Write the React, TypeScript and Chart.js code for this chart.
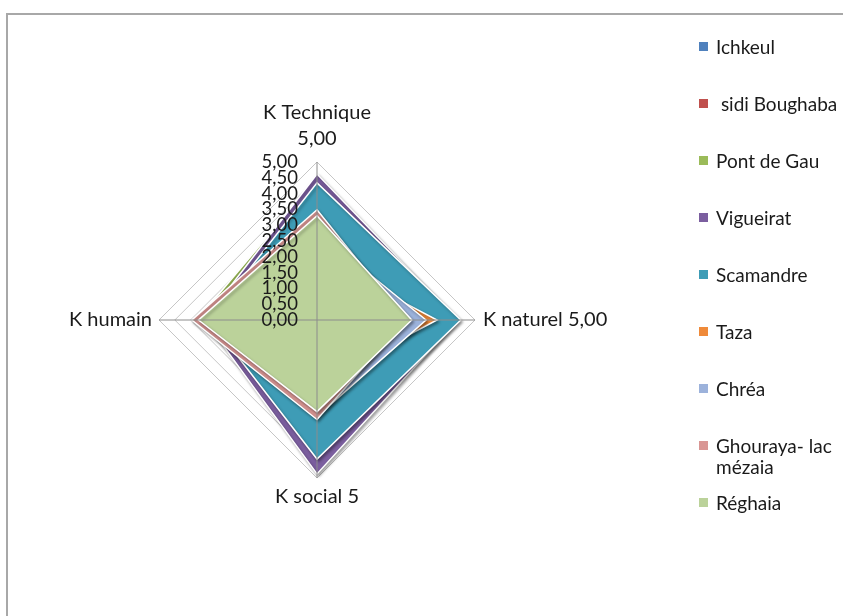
import React, { useEffect, useRef } from "react";
import { Chart, registerables } from "chart.js";

const axisLabels: (string | string[])[] = [["K Technique", "5,00"], "K naturel 5,00", "K social 5", "K humain"];
const seriesNames = ["Ichkeul", " sidi Boughaba", "Pont de Gau", "Vigueirat", "Scamandre", "Taza", "Chréa", "Ghouraya- lac mézaia", "Réghaia"];
const seriesColors = ["#4F81BD", "#C0504D", "#9BBB59", "#7B5E9F", "#3E9CB6", "#EF8A3A", "#9CB2DB", "#D99694", "#BBD29A"];

// values: K Technique, K naturel, K social, K humain
const ichkeul = [3.2, 3.2, 2.6, 3.4];
const sidiBoughaba = [3.0, 2.9, 2.7, 3.5];
const pontDeGau = [4.5, 4.0, 3.5, 3.8];
const vigueirat = [4.62, 4.45, 4.87, 3.56];
const scamandre = [4.34, 4.55, 4.4, 3.4];
const taza = [2.0, 3.8, 2.0, 2.5];
const chrea = [2.8, 3.45, 3.05, 3.0];
const ghouraya = [3.49, 2.8, 3.15, 3.96];
const reghaia = [3.3, 3.0, 2.9, 3.75];
const seriesValues = [ichkeul, sidiBoughaba, pontDeGau, vigueirat, scamandre, taza, chrea, ghouraya, reghaia];

const scaleMin = 0;
const scaleMax = 5;
const scaleStep = 0.5;

const FONT = "Lato, 'Open Sans', sans-serif";

const shadowPlugin = {
  id: "seriesShadow",
  beforeDatasetDraw(chart: any) {
    const ctx = chart.ctx;
    ctx.save();
    ctx.shadowColor = "rgba(0,0,0,0.35)";
    ctx.shadowBlur = 3;
    ctx.shadowOffsetX = 1.5;
    ctx.shadowOffsetY = 2;
  },
  afterDatasetDraw(chart: any) {
    chart.ctx.restore();
  },
};

const overlayPlugin = {
  id: "overlay",
  afterDatasetsDraw(chart: any) {
    const ctx = chart.ctx;
    const scale = chart.scales.r;
    const n = chart.data.labels.length;
    ctx.save();
    // angle lines on top of the fills
    ctx.strokeStyle = "#8C8C8C";
    ctx.lineWidth = 1;
    for (let i = 0; i < n; i++) {
      const p = scale.getPointPositionForValue(i, scale.max);
      ctx.beginPath();
      ctx.moveTo(scale.xCenter, scale.yCenter);
      ctx.lineTo(p.x, p.y);
      ctx.stroke();
    }
    // tick labels
    ctx.fillStyle = "#1a1a1a";
    ctx.font = `18.5px ${FONT}`;
    ctx.textAlign = "right";
    ctx.textBaseline = "middle";
    scale.ticks.forEach((t: any) => {
      const d = scale.getDistanceFromCenterForValue(t.value);
      ctx.fillText(Number(t.value).toFixed(2).replace(".", ","), scale.xCenter - 19, scale.yCenter - d);
    });
    // point labels
    ctx.font = `20px ${FONT}`;
    for (let i = 0; i < n; i++) {
      const p = scale.getPointPositionForValue(i, scale.max);
      const lab = chart.data.labels[i];
      const lines: string[] = Array.isArray(lab) ? lab : [lab];
      const lh = 26;
      if (i === 0) {
        ctx.textAlign = "center";
        lines.forEach((l, k) => ctx.fillText(l, p.x, p.y - 23 - (lines.length - 1 - k) * lh));
      } else if (i === 1) {
        ctx.textAlign = "left";
        lines.forEach((l, k) => ctx.fillText(l, p.x + 8, p.y + k * lh));
      } else if (i === 2) {
        ctx.textAlign = "center";
        lines.forEach((l, k) => ctx.fillText(l, p.x, p.y + 19 + k * lh));
      } else {
        ctx.textAlign = "right";
        lines.forEach((l, k) => ctx.fillText(l, p.x - 7, p.y + k * lh));
      }
    }
    ctx.restore();
  },
};

Chart.register(shadowPlugin);
Chart.register(...registerables);

export default function App() {
  const ref = useRef<HTMLCanvasElement>(null);
  useEffect(() => {
    if (!ref.current) return;
    const chart = new Chart(ref.current, {
      type: "radar",
      data: {
        labels: axisLabels as any,
        datasets: seriesNames.map((name, i) => ({
          label: name,
          data: seriesValues[i],
          backgroundColor: seriesColors[i],
          borderColor: "#ffffff",
          borderWidth: 1.5,
          pointRadius: 0,
          fill: true,
          order: seriesNames.length - 1 - i,
        })),
      },
      options: {
        responsive: false,
        devicePixelRatio: 1,
        animation: false,
        layout: { padding: { left: 159, right: 368, top: 162, bottom: 138 } },
        plugins: { legend: { display: false }, tooltip: { enabled: false } },
        elements: { line: { tension: 0 } },
        scales: {
          r: {
            min: scaleMin,
            max: scaleMax,
            ticks: { stepSize: scaleStep, display: false },
            grid: { color: "#C6C6C6", lineWidth: 1 },
            angleLines: { display: false },
            pointLabels: { display: false },
          },
        },
      },
      plugins: [overlayPlugin],
    });
    return () => chart.destroy();
  }, []);

  return (
    <div style={{ position: "fixed", left: 0, top: 0, width: 843, height: 616, overflow: "hidden", background: "#fff" }}>
      <div style={{ position: "absolute", left: 6, top: 13, width: 900, height: 700, border: "2px solid #A8A8A8", boxSizing: "border-box" }} />
      <canvas ref={ref} width={843} height={616} style={{ position: "absolute", left: 0, top: 0, width: 843, height: 616 }} />
      {seriesNames.map((name, i) => (
        <div key={name} style={{ position: "absolute", left: 699, top: 47 + 57 * i - 11, width: 150, fontFamily: FONT, fontSize: 19, lineHeight: "21px", color: "#1a1a1a" }}>
          <span style={{ position: "absolute", left: 0, top: 6, width: 9, height: 9, background: seriesColors[i] }} />
          <div style={{ marginLeft: 17, whiteSpace: "pre-wrap", width: 130 }}>{name}</div>
        </div>
      ))}
    </div>
  );
}
